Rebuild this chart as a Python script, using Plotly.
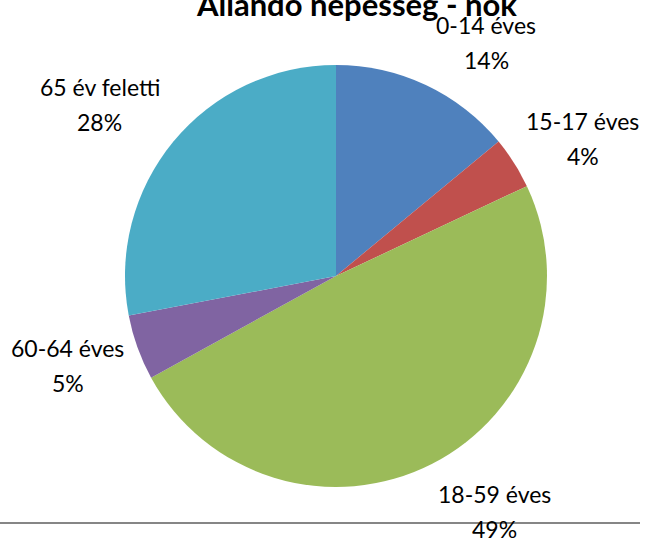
import math
import plotly.graph_objects as go

# ---- data ----
categories = ["0-14 éves", "15-17 éves", "18-59 éves", "60-64 éves", "65 év feletti"]
values = [14, 4, 49, 5, 28]
pct_labels = ["14%", "4%", "49%", "5%", "28%"]
title_text = "Állandó népesség - nők"

# ---- style / layout ----
colors = ["#4F81BD", "#C0504D", "#9BBB59", "#8064A2", "#4BACC6"]
W, H = 646, 538
CX, CY, R = 336, 276, 211          # pie centre / radius in px
LABEL_R = 1.33                      # label distance as fraction of radius
label_nudge = [(31, 20), (10, 13), (31, -15), (-4, -6), (-20, 7)]  # px tweaks (+down)
FONT = "Lato"

fig = go.Figure(go.Pie(
    labels=categories,
    values=values,
    sort=False,
    direction="clockwise",
    rotation=0,
    marker=dict(colors=colors, line=dict(width=0)),
    textinfo="none",
    hoverinfo="label+percent",
    showlegend=False,
    domain=dict(x=[(CX - R) / W, (CX + R) / W],
                y=[1 - (CY + R) / H, 1 - (CY - R) / H]),
))

annotations = []
total = sum(values)
cum = 0
for i, (cat, v) in enumerate(zip(categories, values)):
    mid = (cum + v / 2) / total * 2 * math.pi
    cum += v
    px = CX + LABEL_R * R * math.sin(mid) + label_nudge[i][0]
    py = CY - LABEL_R * R * math.cos(mid) + label_nudge[i][1]
    xp, yp = px / W, 1 - py / H
    for txt, ys in ((cat, 17.5), (pct_labels[i], -17.5)):
        annotations.append(dict(
            x=xp, y=yp, xref="paper", yref="paper", text=txt, showarrow=False,
            xanchor="center", yanchor="middle", yshift=ys,
            font=dict(family=FONT, size=23, color="#000000"),
        ))

annotations.append(dict(
    x=356 / W, y=1 - 4 / H, xref="paper", yref="paper",
    text="<b>" + title_text + "</b>", showarrow=False,
    xanchor="center", yanchor="middle",
    font=dict(family=FONT, size=31, color="#000000"),
))

fig.update_layout(
    width=W, height=H,
    margin=dict(l=0, r=0, t=0, b=0),
    paper_bgcolor="white", plot_bgcolor="white",
    annotations=annotations,
    shapes=[dict(type="line", xref="paper", yref="paper",
                 x0=0, x1=640 / W, y0=1 - 523 / H, y1=1 - 523 / H,
                 line=dict(color="#868686", width=2))],
)

fig.write_html("out.html", config={"displayModeBar": False},
               post_script="document.body.style.margin='0';")
